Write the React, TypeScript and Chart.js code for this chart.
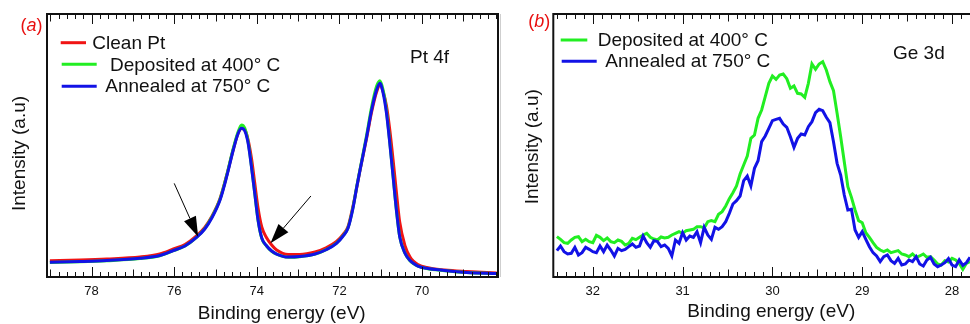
import React, { useEffect, useRef } from "react";
import { Chart, registerables } from "chart.js";
Chart.register(...registerables);

const FONT = "'Liberation Sans', Arial, Helvetica, sans-serif";
const RED = "#f01414";
const GREEN = "#22ee22";
const BLUE = "#1212e6";

// ---------- Panel (a): Pt 4f ----------
const ptEnergy = [79.01, 78.28, 77.63, 76.83, 76.35, 76.02, 75.74, 75.46, 75.26, 75.09, 74.89, 74.73, 74.57, 74.45, 74.37, 74.29, 74.21, 74.13, 74.05, 73.97, 73.88, 73.76, 73.64, 73.52, 73.24, 72.96, 72.59, 72.31, 72.07, 71.91, 71.79, 71.67, 71.58, 71.5, 71.34, 71.22, 71.1, 71.02, 70.94, 70.86, 70.78, 70.7, 70.62, 70.54, 70.41, 70.29, 70.21, 70.1, 69.89, 69.45, 68.92, 68.19];
const ptClean = [6.2, 6.46, 6.84, 7.6, 8.75, 10.65, 12.36, 15.59, 18.82, 23.0, 29.85, 38.59, 48.48, 54.75, 56.46, 55.89, 52.09, 45.25, 35.74, 26.23, 19.01, 14.83, 12.17, 10.27, 8.55, 8.55, 9.51, 11.22, 13.5, 16.16, 19.2, 27.0, 34.03, 40.68, 52.85, 62.74, 70.34, 73.0, 70.34, 65.0, 55.9, 44.5, 32.3, 20.9, 11.8, 7.6, 6.08, 4.75, 3.61, 2.66, 2.09, 1.52];
const ptDeposited = [5.5, 5.8, 6.2, 7.0, 8.1, 10.0, 11.8, 15.1, 18.4, 22.7, 29.6, 38.6, 48.9, 55.3, 57.8, 56.5, 51.3, 42.2, 31.9, 21.6, 14.7, 11.7, 9.8, 8.7, 7.5, 7.7, 8.7, 10.5, 12.9, 15.7, 18.8, 26.5, 34.5, 41.0, 54.0, 64.6, 72.5, 74.6, 71.0, 63.0, 51.2, 38.3, 25.5, 15.3, 9.0, 6.2, 5.1, 4.1, 3.2, 2.4, 1.7, 1.3];
const ptAnnealed = [5.59, 5.89, 6.27, 7.11, 8.17, 10.08, 11.79, 15.02, 18.25, 22.43, 29.28, 38.13, 48.29, 54.64, 56.54, 55.51, 50.83, 41.94, 31.82, 21.67, 14.83, 11.79, 9.89, 8.74, 7.6, 7.79, 8.74, 10.46, 12.81, 15.59, 18.63, 26.24, 34.22, 40.68, 53.34, 63.49, 71.1, 73.65, 69.84, 62.24, 50.83, 38.13, 25.47, 15.32, 9.01, 6.27, 5.21, 4.18, 3.31, 2.47, 1.71, 1.33];
const ptTicks = [78, 76, 74, 72, 70];
const ptLabels = ["Clean Pt", "Deposited at 400° C", "Annealed at 750° C"];
const ptArrows = [
  { from: [76.0, 35.6], to: [75.42, 15.3] },
  { from: [72.69, 30.8], to: [73.67, 12.8] },
];

// ---------- Panel (b): Ge 3d ----------
const geEnergy = [32.4, 32.36, 32.32, 32.28, 32.24, 32.2, 32.16, 32.12, 32.08, 32.04, 32.0, 31.96, 31.92, 31.88, 31.84, 31.8, 31.76, 31.72, 31.68, 31.64, 31.6, 31.56, 31.52, 31.48, 31.44, 31.4, 31.36, 31.32, 31.28, 31.24, 31.2, 31.16, 31.12, 31.08, 31.04, 31.0, 30.96, 30.92, 30.88, 30.84, 30.8, 30.76, 30.72, 30.68, 30.64, 30.6, 30.56, 30.52, 30.48, 30.44, 30.4, 30.36, 30.32, 30.28, 30.24, 30.2, 30.16, 30.12, 30.08, 30.04, 30.0, 29.96, 29.92, 29.88, 29.84, 29.8, 29.76, 29.72, 29.68, 29.64, 29.6, 29.56, 29.52, 29.48, 29.44, 29.4, 29.36, 29.32, 29.28, 29.24, 29.2, 29.16, 29.12, 29.08, 29.04, 29.0, 28.96, 28.92, 28.88, 28.84, 28.8, 28.76, 28.72, 28.68, 28.64, 28.6, 28.56, 28.52, 28.48, 28.44, 28.4, 28.36, 28.32, 28.28, 28.24, 28.2, 28.16, 28.12, 28.08, 28.04, 28.0, 27.96, 27.92, 27.88, 27.84, 27.8];
const geDeposited = [121, 113, 103, 101, 111, 119, 121, 106, 113, 106, 103, 125, 119, 109, 117, 106, 103, 111, 107, 96, 101, 116, 112, 119, 126, 131, 119, 114, 111, 120, 117, 119, 126, 131, 136, 131, 139, 141, 143, 151, 151, 147, 166, 169, 166, 188, 196, 213, 235, 253, 273, 309, 336, 363, 416, 426, 476, 501, 541, 581, 603, 593, 606, 609, 595, 566, 573, 551, 549, 539, 581, 639, 623, 639, 646, 621, 586, 559, 491, 421, 346, 271, 239, 201, 169, 163, 133, 119, 103, 89, 81, 76, 81, 73, 76, 79, 69, 66, 61, 69, 59, 63, 69, 59, 61, 51, 39, 36, 49, 45, 56, 51, 41, 23, 41, 46];
const geAnnealed = [79, 93, 76, 69, 71, 89, 66, 73, 89, 83, 76, 73, 93, 76, 96, 81, 63, 86, 79, 83, 91, 99, 89, 93, 123, 103, 89, 109, 106, 91, 96, 86, 63, 111, 101, 133, 111, 123, 119, 136, 103, 149, 126, 113, 149, 143, 151, 166, 191, 219, 229, 243, 289, 303, 273, 326, 349, 406, 423, 446, 469, 473, 476, 459, 449, 421, 389, 416, 429, 426, 451, 466, 493, 503, 499, 479, 463, 406, 341, 306, 246, 201, 203, 141, 119, 136, 113, 91, 73, 63, 46, 61, 66, 49, 41, 56, 36, 39, 51, 46, 61, 39, 33, 51, 59, 39, 31, 36, 43, 55, 36, 31, 51, 35, 43, 59];
const geTicks = [32, 31, 30, 29, 28];
const geLabels = ["Deposited at 400° C", "Annealed at 750° C"];

type Decor = {
  label: string;
  labelX: number;
  labelY: number;
  yTitleX: number;
  yTitleY: number;
  xTitleX: number;
  xTitleY: number;
  note: string;
  noteX: number;
  noteY: number;
  minor: number;
  rightBorder: boolean;
  sepLine: boolean;
  legend: { x1: number; x2: number; y: number; tx: number; ty: number }[];
  arrows: { from: number[]; to: number[] }[];
};

function decorPlugin(d: Decor) {
  return {
    id: "decor",
    afterDraw(chart: any) {
      const ctx = chart.ctx as CanvasRenderingContext2D;
      const { left, right, top, bottom } = chart.chartArea;
      const xs = chart.scales.x;
      const ys = chart.scales.y;
      ctx.save();
      if (d.sepLine) {
        ctx.strokeStyle = "#cfcfcf";
        ctx.lineWidth = 1;
        ctx.beginPath();
        ctx.moveTo(0.5, top);
        ctx.lineTo(0.5, bottom);
        ctx.stroke();
      }
      // frame
      ctx.strokeStyle = "#111";
      ctx.lineWidth = 2;
      ctx.beginPath();
      ctx.moveTo(right + 1, top);
      ctx.lineTo(left, top);
      ctx.lineTo(left, bottom);
      ctx.lineTo(right + 1, bottom);
      if (d.rightBorder) {
        ctx.moveTo(right, top);
        ctx.lineTo(right, bottom);
      }
      ctx.stroke();
      // inward ticks top & bottom
      ctx.lineWidth = 1;
      ctx.beginPath();
      const lo = Math.min(xs.min, xs.max);
      const hi = Math.max(xs.min, xs.max);
      const n0 = Math.ceil(lo / d.minor - 1e-6);
      const n1 = Math.floor(hi / d.minor + 1e-6);
      for (let n = n0; n <= n1; n++) {
        const v = n * d.minor;
        const px = Math.round(xs.getPixelForValue(v)) + 0.5;
        if (px < left + 1 || px > right - 0.5) continue;
        const len = n % 10 === 0 ? 10 : n % 5 === 0 ? 7.5 : 5;
        ctx.moveTo(px, bottom);
        ctx.lineTo(px, bottom - len);
        ctx.moveTo(px, top);
        ctx.lineTo(px, top + len);
      }
      ctx.stroke();
      // arrows
      ctx.fillStyle = "#000";
      ctx.strokeStyle = "#000";
      for (const a of d.arrows) {
        const x1 = xs.getPixelForValue(a.from[0]);
        const y1 = ys.getPixelForValue(a.from[1]);
        const x2 = xs.getPixelForValue(a.to[0]);
        const y2 = ys.getPixelForValue(a.to[1]);
        const ang = Math.atan2(y2 - y1, x2 - x1);
        const hl = 20;
        const hw = 6.5;
        const bx = x2 - hl * Math.cos(ang);
        const by = y2 - hl * Math.sin(ang);
        ctx.lineWidth = 1;
        ctx.beginPath();
        ctx.moveTo(x1, y1);
        ctx.lineTo(bx, by);
        ctx.stroke();
        ctx.beginPath();
        ctx.moveTo(x2, y2);
        ctx.lineTo(bx + hw * Math.sin(ang), by - hw * Math.cos(ang));
        ctx.lineTo(bx - hw * Math.sin(ang), by + hw * Math.cos(ang));
        ctx.closePath();
        ctx.fill();
      }
      // legend
      ctx.font = `19px ${FONT}`;
      ctx.textBaseline = "alphabetic";
      ctx.textAlign = "left";
      chart.data.datasets.forEach((ds: any, i: number) => {
        const r = d.legend[i];
        if (!r) return;
        ctx.strokeStyle = ds.borderColor;
        ctx.lineWidth = 3;
        ctx.beginPath();
        ctx.moveTo(r.x1, r.y);
        ctx.lineTo(r.x2, r.y);
        ctx.stroke();
        ctx.fillStyle = "#111";
        ctx.fillText(ds.label, r.tx, r.ty);
      });
      // note
      ctx.fillStyle = "#111";
      ctx.fillText(d.note, d.noteX, d.noteY);
      // panel label
      ctx.fillStyle = "#e81010";
      ctx.font = `18px ${FONT}`;
      let x = d.labelX;
      ctx.fillText("(", x, d.labelY);
      x += ctx.measureText("(").width;
      ctx.font = `italic 18px ${FONT}`;
      ctx.fillText(d.label, x, d.labelY);
      x += ctx.measureText(d.label).width;
      ctx.font = `18px ${FONT}`;
      ctx.fillText(")", x, d.labelY);
      // x title
      ctx.fillStyle = "#111";
      ctx.font = `19px ${FONT}`;
      ctx.textAlign = "center";
      ctx.fillText("Binding energy (eV)", d.xTitleX, d.xTitleY);
      // y title
      ctx.translate(d.yTitleX, d.yTitleY);
      ctx.rotate(-Math.PI / 2);
      ctx.textBaseline = "middle";
      ctx.fillText("Intensity (a.u)", 0, 0);
      ctx.restore();
    },
  };
}

function toPts(xv: number[], yv: number[]) {
  return xv.map((x, i) => ({ x, y: yv[i] }));
}

function xScale(min: number, max: number, ticks: number[]) {
  return {
    type: "linear" as const,
    reverse: true,
    min,
    max,
    grid: { display: false, drawTicks: false },
    border: { display: false },
    afterBuildTicks: (s: any) => {
      s.ticks = ticks.map((v) => ({ value: v }));
    },
    ticks: {
      autoSkip: false,
      maxRotation: 0,
      padding: 6.5,
      color: "#111",
      font: { family: FONT, size: 13 },
      callback: (v: any) => String(v),
    },
  };
}

export default function App() {
  const refA = useRef<HTMLCanvasElement>(null);
  const refB = useRef<HTMLCanvasElement>(null);

  useEffect(() => {
    const line = (label: string, color: string, data: any, order: number, w: number, smooth: boolean) => ({
      label,
      data,
      borderColor: color,
      backgroundColor: color,
      borderWidth: w,
      pointRadius: 0,
      fill: false,
      order,
      tension: smooth ? 0.4 : 0,
      cubicInterpolationMode: smooth ? ("monotone" as const) : ("default" as const),
    });

    const chartA = new Chart(refA.current!, {
      type: "line",
      data: {
        datasets: [
          line(ptLabels[0], RED, toPts(ptEnergy, ptClean), 3, 3, true),
          line(ptLabels[1], GREEN, toPts(ptEnergy, ptDeposited), 2, 3, true),
          line(ptLabels[2], BLUE, toPts(ptEnergy, ptAnnealed), 1, 3, true),
        ],
      },
      options: {
        responsive: false,
        animation: false,
        devicePixelRatio: 1,
        layout: { padding: { left: 47, right: 2, top: 14, bottom: 18.4 } },
        plugins: { legend: { display: false }, tooltip: { enabled: false } },
        scales: {
          x: xScale(68.16, 79.08, ptTicks),
          y: { display: false, min: 0, max: 100 },
        },
      },
      plugins: [
        decorPlugin({
          label: "a",
          labelX: 20.5,
          labelY: 30.5,
          yTitleX: 20,
          yTitleY: 153.5,
          xTitleX: 281.7,
          xTitleY: 318.5,
          note: "Pt 4f",
          noteX: 410,
          noteY: 63.3,
          minor: 0.2,
          rightBorder: true,
          sepLine: false,
          legend: [
            { x1: 60.7, x2: 86, y: 42.7, tx: 92.3, ty: 49.3 },
            { x1: 61.7, x2: 96.7, y: 64.3, tx: 110, ty: 71 },
            { x1: 61.7, x2: 96.7, y: 86.3, tx: 105.3, ty: 91.8 },
          ],
          arrows: ptArrows,
        }),
      ],
    } as any);

    const chartB = new Chart(refB.current!, {
      type: "line",
      data: {
        datasets: [
          line(geLabels[0], GREEN, toPts(geEnergy, geDeposited), 2, 3, false),
          line(geLabels[1], BLUE, toPts(geEnergy, geAnnealed), 1, 3, false),
        ],
      },
      options: {
        responsive: false,
        animation: false,
        devicePixelRatio: 1,
        layout: { padding: { left: 53.3, right: 0, top: 14, bottom: 18.4 } },
        plugins: { legend: { display: false }, tooltip: { enabled: false } },
        scales: {
          x: xScale(27.8, 32.44, geTicks),
          y: { display: false, min: 0, max: 789 },
        },
      },
      plugins: [
        decorPlugin({
          label: "b",
          labelX: 28.3,
          labelY: 27,
          yTitleX: 32.7,
          yTitleY: 146.7,
          xTitleX: 271.3,
          xTitleY: 317,
          note: "Ge 3d",
          noteX: 393,
          noteY: 59,
          minor: 0.1,
          rightBorder: false,
          sepLine: true,
          legend: [
            { x1: 60.7, x2: 87.3, y: 40, tx: 97.7, ty: 45.7 },
            { x1: 61.7, x2: 96.7, y: 61.3, tx: 105.3, ty: 67.3 },
          ],
          arrows: [],
        }),
      ],
    } as any);

    return () => {
      chartA.destroy();
      chartB.destroy();
    };
  }, []);

  return (
    <div style={{ position: "fixed", left: 0, top: 0, width: 970, height: 324, background: "#fff" }}>
      <canvas ref={refA} width={500} height={324} style={{ position: "absolute", left: 0, top: 0, width: 500, height: 324 }} />
      <canvas ref={refB} width={470} height={324} style={{ position: "absolute", left: 500, top: 0, width: 470, height: 324 }} />
    </div>
  );
}
